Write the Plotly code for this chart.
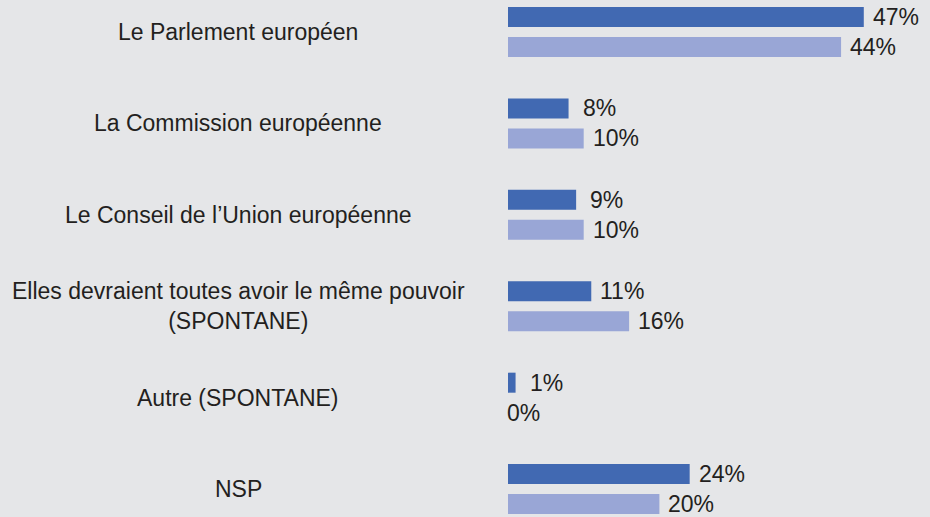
import plotly.graph_objects as go

categories = [
    "Le Parlement européen",
    "La Commission européenne",
    "Le Conseil de l’Union européenne",
    "Elles devraient toutes avoir le même pouvoir<br>(SPONTANE)",
    "Autre (SPONTANE)",
    "NSP",
]
series_a = [47, 8, 9, 11, 1, 24]
series_b = [44, 10, 10, 16, 0, 20]
value_labels_a = [f"{v}%" for v in series_a]
value_labels_b = [f"{v}%" for v in series_b]

BG = "#e5e6e8"
DARK = "#4169b2"
LIGHT = "#99a6d6"
TXT = "#231f20"
FONT = "Liberation Sans Narrow, Arial Narrow, Liberation Sans, Arial, sans-serif"
FS = 23

W, H = 930, 517
left = 508
pos = list(range(len(categories)))
bw = 0.219

fig = go.Figure()
fig.add_trace(go.Bar(y=pos, x=series_a, orientation="h", width=bw, offset=-0.273,
                     marker=dict(color=DARK, line=dict(width=0)), hoverinfo="skip"))
fig.add_trace(go.Bar(y=pos, x=series_b, orientation="h", width=bw, offset=0.055,
                     marker=dict(color=LIGHT, line=dict(width=0)), hoverinfo="skip"))

annotations = []
label_x = (238 - left) / (W - left)
for i, c in enumerate(categories):
    annotations.append(dict(x=label_x, xref="paper", y=i, yref="y", text=c,
                            showarrow=False, xanchor="center", yanchor="middle",
                            align="center", font=dict(size=FS, color=TXT, family=FONT)))
for i, (va, vb) in enumerate(zip(series_a, series_b)):
    annotations.append(dict(x=va, y=i - 0.164, xref="x", yref="y", text=value_labels_a[i],
                            showarrow=False, xanchor="left", yanchor="middle",
                            xshift=(7 if va >= 10 else 12) if va > 0 else -3,
                            font=dict(size=FS, color=TXT, family=FONT)))
    annotations.append(dict(x=vb, y=i + 0.164, xref="x", yref="y", text=value_labels_b[i],
                            showarrow=False, xanchor="left", yanchor="middle",
                            xshift=(7 if vb >= 10 else 12) if vb > 0 else -3,
                            font=dict(size=FS, color=TXT, family=FONT)))

fig.update_layout(
    width=W, height=H,
    paper_bgcolor=BG, plot_bgcolor=BG,
    margin=dict(l=left, r=0, t=0, b=0),
    showlegend=False,
    barmode="overlay",
    xaxis=dict(range=[0, (W - left) / 7.57], visible=False, fixedrange=True),
    yaxis=dict(range=[5.306, -0.350], visible=False, fixedrange=True),
    annotations=annotations,
    font=dict(family=FONT, color=TXT),
)

fig.write_html(
    "out.html",
    config={"displayModeBar": False},
    post_script="document.body.style.margin='0';document.body.style.overflow='hidden';"
                "document.body.style.background='" + BG + "';",
)
